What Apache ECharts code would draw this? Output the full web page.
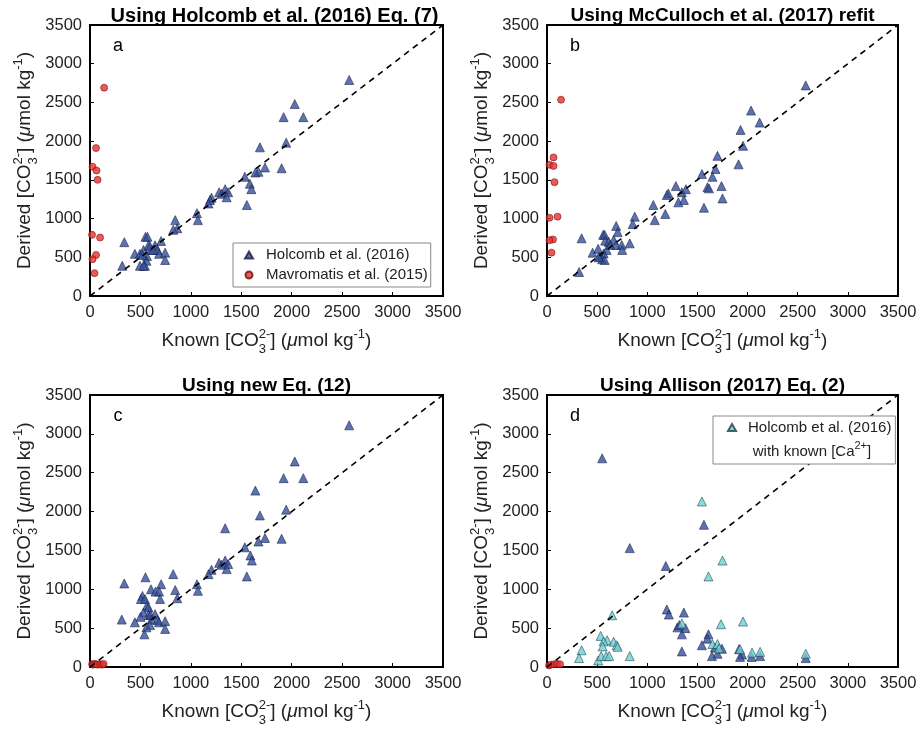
<!DOCTYPE html>
<html>
<head>
<meta charset="utf-8">
<script src="https://cdn.jsdelivr.net/npm/echarts@6/dist/echarts.min.js"></script>
<style>html,body{margin:0;padding:0;background:#fff;}#chart{width:921px;height:729px;}</style>
</head>
<body>
<div id="chart"></div>
<script>
// ---------- data ----------
const axisTicks = [0, 500, 1000, 1500, 2000, 2500, 3000, 3500];
const oneToOne = [[0, 0], [3500, 3500]];

const holcombA = [[2570,2790],[2030,2480],[1920,2310],[2115,2310],[1945,1980],[1685,1920],[1900,1650],[1735,1660],[1670,1605],[1640,1595],[1535,1540],[1585,1450],[1600,1380],[1555,1175],[1340,1380],[1280,1340],[1305,1320],[1370,1340],[1355,1275],[1205,1270],[1190,1240],[1175,1195],[1060,1070],[1070,980],[845,980],[865,875],[825,855],[705,710],[550,765],[570,765],[340,695],[320,390],[445,545],[495,545],[530,595],[580,655],[610,595],[645,655],[670,595],[685,545],[745,560],[745,465],[565,515],[560,455],[545,390],[495,390],[530,390],[595,640],[628,595],[520,530]];
const mavA = [[140,2690],[60,1910],[25,1670],[65,1620],[75,1500],[20,790],[100,755],[60,530],[25,475],[45,295]];

const holcombB = [[2580,2720],[2035,2395],[2120,2240],[1930,2145],[1955,1940],[1700,1810],[1910,1700],[1680,1640],[1545,1575],[1650,1540],[1600,1405],[1615,1390],[1740,1420],[1750,1260],[1565,1140],[1285,1420],[1210,1325],[1195,1305],[1345,1340],[1385,1380],[1365,1240],[1310,1210],[1060,1175],[1180,1060],[1075,980],[875,1025],[855,930],[690,905],[705,825],[345,745],[320,310],[455,560],[510,610],[560,790],[575,790],[580,715],[615,700],[665,725],[690,660],[745,660],[750,595],[825,680],[595,595],[565,550],[530,510],[550,475],[575,465],[515,500],[630,660]];
const mavB = [[140,2535],[65,1790],[25,1695],[65,1680],[75,1470],[25,1010],[105,1025],[60,730],[25,720],[45,560]];

const holcombC = [[2570,3110],[2030,2645],[1920,2430],[2115,2430],[1640,2270],[1945,2025],[1685,1950],[1340,1785],[1735,1660],[1900,1650],[1670,1615],[1535,1540],[1590,1435],[1605,1370],[1555,1165],[1280,1340],[1305,1315],[1340,1370],[1370,1325],[1355,1260],[1205,1250],[1175,1195],[1060,1065],[1070,980],[825,1195],[845,990],[865,885],[705,1065],[550,1155],[340,1075],[605,1000],[650,970],[685,970],[520,915],[505,875],[545,875],[695,875],[565,790],[580,765],[530,700],[580,670],[600,670],[645,680],[610,610],[670,605],[685,575],[745,590],[315,610],[445,575],[500,645],[595,540],[560,510],[745,490],[540,420]];
const mavC = [[20,35],[30,30],[45,40],[60,35],[75,30],[100,35],[120,30],[135,40]];

const holcombD = [[550,2685],[1565,1830],[825,1530],[1185,1300],[1195,740],[1215,675],[1365,700],[1300,510],[1320,540],[1380,500],[1345,420],[1610,420],[1600,365],[1545,280],[1675,250],[1745,235],[1700,170],[1645,140],[1345,200],[1915,230],[1945,160],[1925,130],[2040,130],[2125,140],[2580,115]];
const holcombCaD = [[1545,2130],[1750,1370],[1610,1165],[650,665],[1735,550],[1955,585],[1345,560],[535,400],[600,345],[565,330],[555,265],[665,325],[695,280],[705,260],[345,215],[320,115],[510,85],[540,140],[590,140],[620,140],[825,140],[1650,295],[1700,295],[1715,240],[1925,230],[2045,185],[2125,195],[2580,170]];
const mavD = [[20,20],[40,30],[70,35],[100,40],[130,35]];

const titles = ['Using Holcomb et al. (2016) Eq. (7)', 'Using McCulloch et al. (2017) refit', 'Using new Eq. (12)', 'Using Allison (2017) Eq. (2)'];
const letters = ['a', 'b', 'c', 'd'];
const legendNames = ['Holcomb et al. (2016)', 'Mavromatis et al. (2015)'];

// ---------- styles ----------
const FONT = '"Liberation Sans", Arial, Helvetica, sans-serif';
const BLUE = {color: '#34509e', borderColor: '#141c40', borderWidth: 0.7};
const CYAN = {color: '#6ccfd4', borderColor: '#1d3d48', borderWidth: 0.7};
const RED = {color: '#e8302c', borderColor: '#6a0d0d', borderWidth: 0.7};

const grids = [
  {left: 90, top: 25, width: 353, height: 271},
  {left: 547, top: 25, width: 351, height: 271},
  {left: 90, top: 395, width: 353, height: 272},
  {left: 547, top: 395, width: 351, height: 272}
];

function makeAxis(i) {
  return {
    type: 'value', gridIndex: i, min: axisTicks[0], max: axisTicks[axisTicks.length - 1], interval: 500,
    axisLine: {show: true, onZero: false, lineStyle: {color: '#000', width: 2}},
    axisTick: {show: true, inside: true, length: 4, lineStyle: {color: '#000', width: 1}},
    axisLabel: {fontSize: 16.5, color: '#222', margin: 8, fontFamily: FONT, formatter: v => String(v)},
    splitLine: {show: false}
  };
}

const ctx = document.createElement('canvas').getContext('2d');
function tw(text, size, italic) {
  ctx.font = (italic ? 'italic ' : '') + size + 'px ' + FONT;
  return ctx.measureText(text).width;
}
const MAIN = 19, SMALL = 13;
function buildLabel(pieces, cx, cy, rot) {
  let x = 0; const ch = [];
  const txt = (t, xx, yy, size, italic) => ({type: 'text', x: xx, y: yy, style: {text: t, fontSize: size, fontFamily: FONT, fontStyle: italic ? 'italic' : 'normal', fill: '#222', align: 'left', verticalAlign: 'middle'}});
  for (const p of pieces) {
    if (p.t !== undefined) { ch.push(txt(p.t, x, 0, MAIN, p.it)); x += tw(p.t, MAIN, p.it); }
    else {
      let w = 0;
      if (p.sup) { ch.push(txt(p.sup, x, -7, SMALL)); w = Math.max(w, tw(p.sup, SMALL)); }
      if (p.sub) { ch.push(txt(p.sub, x, 8, SMALL)); w = Math.max(w, tw(p.sub, SMALL)); }
      x += w;
    }
  }
  ch.forEach(c => c.x -= x / 2);
  return {type: 'group', x: cx, y: cy, rotation: rot || 0, children: ch};
}
const unitTail = [{t: '] ('}, {t: 'μ', it: true}, {t: 'mol kg'}, {sup: '-1'}, {t: ')'}];
const xLabel = [{t: 'Known [CO'}, {sup: '2-', sub: '3'}].concat(unitTail);
const yLabel = [{t: 'Derived [CO'}, {sup: '2-', sub: '3'}].concat(unitTail);

const graphics = [];
grids.forEach((g, i) => {
  const cx = g.left + g.width / 2;
  const cy = g.top + g.height / 2;
  graphics.push(buildLabel(xLabel, cx, g.top + g.height + 45));
  graphics.push(buildLabel(yLabel, g.left - 65, cy, Math.PI / 2));
  graphics.push({type: 'text', x: cx + (i === 0 ? 8 : 0), y: g.top - 9, style: {text: titles[i], fontSize: i === 0 ? 20 : 19, fontWeight: 'bold', fontFamily: FONT, fill: '#000', align: 'center', verticalAlign: 'middle'}});
  graphics.push({type: 'text', x: g.left + 28, y: g.top + 21, style: {text: letters[i], fontSize: 18, fontFamily: FONT, fill: '#000', align: 'center', verticalAlign: 'middle'}});
});
// second line of legend d
(function () {
  const parts = [{t: 'with known [Ca', s: 15, dy: 0}, {t: '2+', s: 11, dy: -6}, {t: ']', s: 15, dy: 0}];
  let x = 0; const ch = [];
  parts.forEach(p => { ch.push({type: 'text', x: x, y: p.dy, z: 100, style: {text: p.t, fontSize: p.s, fontFamily: FONT, fill: '#222', align: 'left', verticalAlign: 'middle'}}); x += tw(p.t, p.s); });
  ch.forEach(c => c.x -= x / 2);
  graphics.push({type: 'group', x: 812, y: 452, children: ch, z: 100});
})();

function scatter(name, data, i, symbol, size, style) {
  return {type: 'scatter', name: name, xAxisIndex: i, yAxisIndex: i, data: data, symbol: symbol, symbolSize: size, itemStyle: style, z: 3};
}
function diag(i) {
  return {type: 'line', name: '1:1', xAxisIndex: i, yAxisIndex: i, data: oneToOne, symbol: 'none', silent: true, lineStyle: {color: '#000', width: 1.6, type: [6, 5]}, z: 4};
}

const series = [
  scatter(legendNames[0], holcombA, 0, 'triangle', 9, BLUE), scatter(legendNames[1], mavA, 0, 'circle', 7, RED), diag(0),
  scatter(legendNames[0], holcombB, 1, 'triangle', 9, BLUE), scatter(legendNames[1], mavB, 1, 'circle', 7, RED), diag(1),
  scatter(legendNames[0], holcombC, 2, 'triangle', 9, BLUE), scatter(legendNames[1], mavC, 2, 'circle', 7, RED), diag(2),
  scatter(legendNames[0], holcombD, 3, 'triangle', 9, BLUE), scatter('HolcombCa', holcombCaD, 3, 'triangle', 9, CYAN), scatter(legendNames[1], mavD, 3, 'circle', 7, RED), diag(3)
];

const chart = echarts.init(document.getElementById('chart'), null, {renderer: 'canvas'});
chart.setOption({
  animation: false,
  backgroundColor: '#fff',
  grid: grids.map(g => Object.assign({show: true, borderColor: '#000', borderWidth: 2, backgroundColor: '#fff'}, g)),
  xAxis: grids.map((g, i) => makeAxis(i)),
  yAxis: grids.map((g, i) => makeAxis(i)),
  legend: [
    {data: legendNames, orient: 'vertical', left: 233, top: 243, padding: [3, 3, 3, 11], itemGap: 2, itemWidth: 8, itemHeight: 7, z: 20,
     backgroundColor: '#fff', borderColor: '#888', borderWidth: 1, selectedMode: false,
     textStyle: {fontSize: 15, color: '#222', fontFamily: FONT, lineHeight: 18, padding: [0, 0, 0, 8]}},
    {data: ['HolcombCa'], orient: 'vertical', left: 713, top: 416, padding: [4, 4, 29, 14], itemWidth: 8, itemHeight: 7, z: 20,
     backgroundColor: '#fff', borderColor: '#888', borderWidth: 1, selectedMode: false,
     formatter: () => 'Holcomb et al. (2016)',
     textStyle: {fontSize: 15, color: '#222', fontFamily: FONT, lineHeight: 14, padding: [0, 0, 0, 7]}}
  ],
  graphic: {elements: graphics},
  series: series
});
</script>
</body>
</html>
